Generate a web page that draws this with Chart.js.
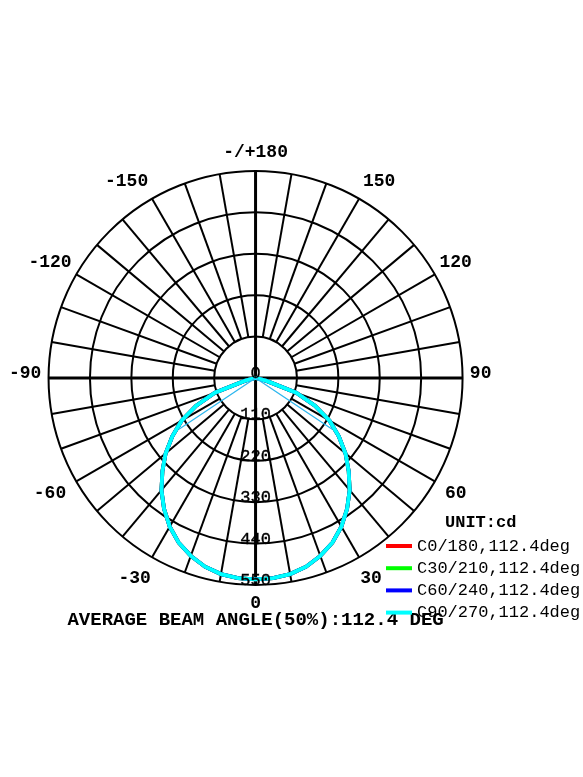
<!DOCTYPE html>
<html>
<head>
<meta charset="utf-8">
<title>Polar intensity diagram</title>
<script src="https://cdn.jsdelivr.net/npm/chart.js@4.4.0/dist/chart.umd.min.js"></script>
<style>
    body { margin: 0; background: #fff; }
    canvas { display: block; }
</style>
</head>
<body>
<canvas id="polar" width="583" height="777"></canvas>
<script>
// gamma angle from nadir (deg) and luminous intensity (cd), one array per C-plane
const gammaAngles = [0, 5, 10, 15, 20, 25, 30, 35, 40, 45, 50, 55, 60, 65, 70, 75, 80, 85, 90];
const c0Values  = [535, 534, 529, 519, 503, 483, 456, 424, 389, 350, 312, 270, 227, 174, 115, 30, 0, 0, 0];
const c30Values = [535, 534, 529, 519, 503, 483, 456, 424, 389, 350, 312, 270, 227, 174, 115, 30, 0, 0, 0];
const c60Values = [535, 534, 529, 519, 503, 483, 456, 424, 389, 350, 312, 270, 227, 174, 115, 30, 0, 0, 0];
const c90Values = [535, 534, 529, 519, 503, 483, 456, 424, 389, 350, 312, 270, 227, 174, 115, 30, 0, 0, 0];

const planeLabels = ['C0/180,112.4deg', 'C30/210,112.4deg', 'C60/240,112.4deg', 'C90/270,112.4deg'];
const planeColors = ['#ff0000', '#00ff00', '#0000ff', '#00ffff'];

const ringValues = [0, 110, 220, 330, 440, 550];
const ringLabels = ['0', '110', '220', '330', '440', '550'];
const angleTicks = [0, 30, 60, 90, 120, 150, 180, -150, -120, -90, -60, -30];
const angleLabels = ['0', '30', '60', '90', '120', '150', '-/+180', '-150', '-120', '-90', '-60', '-30'];
const spokeStep = 10;

const beamAngle = 112.4;
const beamLineValue = 245;
const unitText = 'UNIT:cd';
const titleText = 'AVERAGE BEAM ANGLE(50%):112.4 DEG';

const FONT = '"Liberation Mono", "Courier New", monospace';

function toXY(gamma, value) {
    const r = gamma * Math.PI / 180;
    return { x: value * Math.sin(r), y: -value * Math.cos(r) };
}

// both halves of a plane: C and C+180 are the same here
function planePoints(values) {
    const pts = [];
    for (let i = gammaAngles.length - 1; i > 0; i--) pts.push(toXY(-gammaAngles[i], values[i]));
    for (let i = 0; i < gammaAngles.length; i++) pts.push(toXY(gammaAngles[i], values[i]));
    return pts;
}

const polarGrid = {
    id: 'polarGrid',
    beforeDatasetsDraw(chart) {
        const ctx = chart.ctx;
        const xs = chart.scales.x, ys = chart.scales.y;
        const cx = xs.getPixelForValue(0), cy = ys.getPixelForValue(0);
        const inner = ringValues[1], outer = ringValues[ringValues.length - 1];

        ctx.save();
        ctx.strokeStyle = '#000';
        ctx.lineWidth = 2;
        ringValues.slice(1).forEach(v => {
            ctx.beginPath();
            ctx.arc(cx, cy, xs.getPixelForValue(v) - cx, 0, 2 * Math.PI);
            ctx.stroke();
        });
        for (let a = 0; a < 360; a += spokeStep) {
            const axis = a % 90 === 0;
            const p1 = toXY(a, axis ? 0 : inner);
            const p2 = toXY(a, outer);
            ctx.lineWidth = axis ? 3 : 2;
            ctx.beginPath();
            ctx.moveTo(xs.getPixelForValue(p1.x), ys.getPixelForValue(p1.y));
            ctx.lineTo(xs.getPixelForValue(p2.x), ys.getPixelForValue(p2.y));
            ctx.stroke();
        }
        ctx.restore();
    },
    afterDatasetsDraw(chart) {
        const ctx = chart.ctx;
        const xs = chart.scales.x, ys = chart.scales.y;
        const cx = xs.getPixelForValue(0);

        ctx.save();
        ctx.fillStyle = '#000';
        ctx.strokeStyle = '#000';

        // ring values along the nadir axis (a hairline stroke darkens the thin mono font)
        ctx.font = '17px ' + FONT;
        ctx.textAlign = 'center';
        ctx.textBaseline = 'alphabetic';
        ctx.lineWidth = 0.4;
        ringValues.forEach((v, i) => {
            const y = ys.getPixelForValue(-v);
            ctx.fillText(ringLabels[i], cx, y);
            ctx.strokeText(ringLabels[i], cx, y);
        });

        // angle labels round the outside; a minus sign hangs left of the centred number
        ctx.font = 'bold 18px ' + FONT;
        ctx.textBaseline = 'middle';
        angleTicks.forEach((a, i) => {
            const axis = a % 90 === 0;
            const p = toXY(a, axis ? 598 : 614);
            let x = xs.getPixelForValue(p.x);
            let y = ys.getPixelForValue(p.y);
            if (Math.abs(a) === 90) y -= 4;
            if (Math.abs(a) === 150) { x += Math.sign(a) * 8; y += 4; }
            const text = angleLabels[i];
            if (/^-\d/.test(text)) {
                ctx.textAlign = 'right';
                ctx.fillText(text, x + ctx.measureText(text.slice(1)).width / 2, y);
            } else {
                ctx.textAlign = 'center';
                ctx.fillText(text, x, y);
            }
        });

        ctx.textAlign = 'center';
        ctx.font = 'bold 19px ' + FONT;
        ctx.fillText(titleText, cx, 620);

        // legend
        ctx.textAlign = 'left';
        ctx.font = 'bold 17px ' + FONT;
        ctx.fillText(unitText, 445, 523);
        ctx.font = '17px ' + FONT;
        chart.data.datasets.filter(d => d.label).forEach((d, i) => {
            const y = 546 + i * 22.2;
            ctx.strokeStyle = d.borderColor;
            ctx.lineWidth = 4;
            ctx.beginPath();
            ctx.moveTo(386, y);
            ctx.lineTo(412, y);
            ctx.stroke();
            ctx.fillStyle = '#000';
            ctx.fillText(d.label, 417, y);
        });
        ctx.restore();
    }
};

// C90 is drawn last so it sits on top, as in the original
const planes = [c0Values, c30Values, c60Values, c90Values];
const datasets = planes.map((vals, i) => ({
    label: planeLabels[i],
    data: planePoints(vals),
    borderColor: planeColors[i],
    borderWidth: 3.8,
    showLine: true,
    pointRadius: 0,
    tension: 0,
    order: planes.length - i
}));

const half = beamAngle / 2;
datasets.push({
    label: '',
    data: [toXY(-half, beamLineValue), { x: 0, y: 0 }, toXY(half, beamLineValue)],
    borderColor: '#2cb6ee',
    borderWidth: 1.3,
    showLine: true,
    pointRadius: 0,
    tension: 0,
    order: 0
});

new Chart(document.getElementById('polar'), {
    type: 'scatter',
    data: { datasets: datasets },
    options: {
        responsive: false,
        animation: false,
        devicePixelRatio: 1,
        layout: { padding: 0 },
        scales: {
            x: { type: 'linear', display: false, min: -679, max: 870 },
            y: { type: 'linear', display: false, min: -1060, max: 1004 }
        },
        plugins: {
            legend: { display: false },
            tooltip: { enabled: false }
        }
    },
    plugins: [polarGrid]
});
</script>
</body>
</html>
